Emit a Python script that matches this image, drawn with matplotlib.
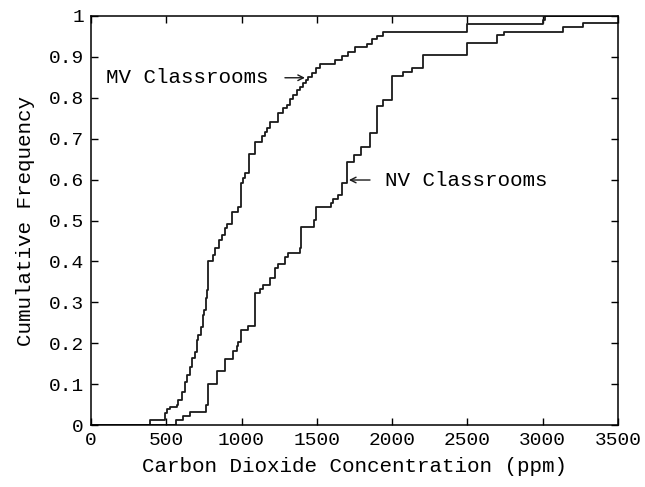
import matplotlib
matplotlib.use("Agg")
import matplotlib.pyplot as plt
import numpy as np

# MV classrooms: CO2 value (ppm) at each step and cumulative frequency after it
mv_ppm = [0, 392, 491, 503, 525, 569, 580, 602, 624, 636, 657, 669, 691, 702, 713,
          729, 742, 750, 764, 768, 779, 812, 824, 852, 868, 890, 905, 934, 978, 994,
          1008, 1023, 1049, 1051, 1089, 1134, 1156, 1169, 1189, 1244, 1277, 1300,
          1322, 1344, 1366, 1388, 1406, 1428, 1443, 1466, 1494, 1521, 1620, 1665,
          1709, 1753, 1831, 1864, 1897, 1941, 2495, 3002, 3015, 3600]
mv_cf = [0, 0.012, 0.03, 0.04, 0.045, 0.05, 0.061, 0.081, 0.106, 0.122, 0.143, 0.163,
         0.179, 0.208, 0.22, 0.24, 0.269, 0.281, 0.31, 0.33, 0.40, 0.416, 0.432,
         0.452, 0.465, 0.481, 0.491, 0.522, 0.532, 0.591, 0.603, 0.617, 0.652,
         0.662, 0.693, 0.707, 0.717, 0.725, 0.742, 0.762, 0.774, 0.782, 0.796,
         0.806, 0.819, 0.827, 0.837, 0.844, 0.852, 0.861, 0.872, 0.882, 0.892,
         0.903, 0.912, 0.924, 0.932, 0.944, 0.952, 0.960, 0.980, 0.99, 1.0, 1.0]

# NV classrooms
nv_ppm = [0, 564, 613, 660, 767, 779, 839, 893, 945, 968, 978, 993, 1045, 1089,
          1122, 1144, 1189, 1222, 1244, 1288, 1310, 1388, 1393, 1481, 1494, 1594,
          1609, 1642, 1665, 1698, 1747, 1791, 1853, 1901, 1941, 1997, 2074, 2130,
          2203, 2495, 2694, 2743, 3137, 3266, 3800, 3900]
nv_cf = [0, 0.012, 0.022, 0.033, 0.05, 0.10, 0.132, 0.162, 0.180, 0.193, 0.203,
         0.232, 0.242, 0.322, 0.332, 0.342, 0.359, 0.383, 0.394, 0.411, 0.42,
         0.432, 0.483, 0.501, 0.532, 0.544, 0.553, 0.562, 0.591, 0.644, 0.660,
         0.680, 0.713, 0.780, 0.795, 0.853, 0.862, 0.872, 0.905, 0.933, 0.953,
         0.962, 0.973, 0.982, 1.0, 1.0]

x_ticks = [0, 500, 1000, 1500, 2000, 2500, 3000, 3500]
y_ticks = [0, 0.1, 0.2, 0.3, 0.4, 0.5, 0.6, 0.7, 0.8, 0.9, 1]
y_tick_labels = ["0", "0.1", "0.2", "0.3", "0.4", "0.5", "0.6", "0.7", "0.8", "0.9", "1"]

plt.rcParams['font.family'] = ['Liberation Mono', 'DejaVu Sans Mono']

fig = plt.figure(figsize=(6.45, 4.87), dpi=100)
ax = fig.add_axes([91/645, 62/487, 527/645, 409/487])

ax.step(mv_ppm, mv_cf, where='post', color='#1a1a1a', lw=1.3)
ax.step(nv_ppm, nv_cf, where='post', color='#1a1a1a', lw=1.3)

ax.set_xlim(0, 3500)
ax.set_ylim(0, 1)
ax.set_xticks(x_ticks)
ax.set_yticks(y_ticks)
ax.set_yticklabels(y_tick_labels)
ax.tick_params(direction='in', top=True, right=True, length=5, width=1,
               labelsize=14, pad=5)
for s in ax.spines.values():
    s.set_linewidth(1.1)

ax.set_xlabel("Carbon Dioxide Concentration (ppm)", fontsize=15, labelpad=6)
ax.set_ylabel("Cumulative Frequency", fontsize=15, labelpad=10)

arrow_kw = dict(arrowstyle='->', color='#1a1a1a', lw=1.0,
                shrinkA=0, shrinkB=0, mutation_scale=10)
ax.text(1176, 0.849, "MV Classrooms", ha='right', va='center', fontsize=15)
ax.annotate("", xy=(1421, 0.849), xytext=(1288, 0.849), arrowprops=arrow_kw)
ax.annotate("", xy=(1713, 0.599), xytext=(1853, 0.599), arrowprops=arrow_kw)
ax.text(1953, 0.599, "NV Classrooms", ha='left', va='center', fontsize=15)

fig.savefig("out.png", dpi=100)
